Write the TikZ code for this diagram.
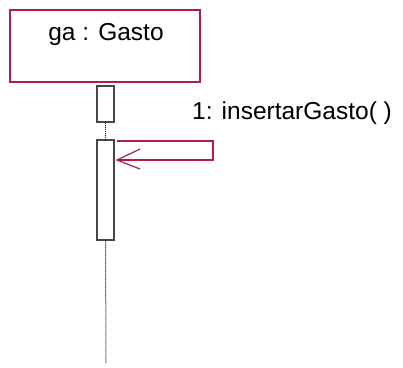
\documentclass[tikz,border=0pt]{standalone}
\usepackage{fontspec}
\setmainfont{Liberation Sans}
\definecolor{umlred}{RGB}{176,28,78}
\definecolor{boxgray}{RGB}{70,70,70}
\tikzset{
  objbox/.style={draw=umlred, line width=1.3pt, fill=white, inner sep=0pt},
  actbox/.style={draw=boxgray, line width=1.1pt, fill=white, inner sep=0pt},
  lifeline/.style={draw=black, line width=1pt, dash pattern=on 1pt off 1pt},
  msg/.style={draw=umlred, line width=1.2pt},
  lbl/.style={font=\fontsize{24.5}{28}\selectfont, inner sep=0pt}
}
\begin{document}
\begin{tikzpicture}[x=1pt,y=-1pt]
\useasboundingbox (0,0) rectangle (403,367);
\coordinate (lend) at (106,363);
\node[objbox, minimum width=190pt, minimum height=72pt] (obj) at (105,46) {};
\node[lbl, anchor=base] (objtxt) at (106,40) {ga : Gasto};
\node[actbox, minimum width=17pt, minimum height=36pt] (act1) at (105.5,104) {};
\node[actbox, minimum width=17pt, minimum height=100pt] (act2) at (105.5,190) {};
\draw[lifeline] (act1.south) -- (act2.north);
\draw[lifeline] (act2.south) -- (lend);
% self message
\coordinate (m1) at (117,141);
\coordinate (m2) at (213,141);
\coordinate (m3) at (213,160);
\coordinate (m4) at (117,160);
\draw[msg] (m1) -- (m2) -- (m3) -- (m4);
\draw[msg] (140,149) -- (m4) -- (140,169);
\node[lbl, anchor=base west] (msglbl) at (192,119) {1: insertarGasto( )};
\end{tikzpicture}
\end{document}
